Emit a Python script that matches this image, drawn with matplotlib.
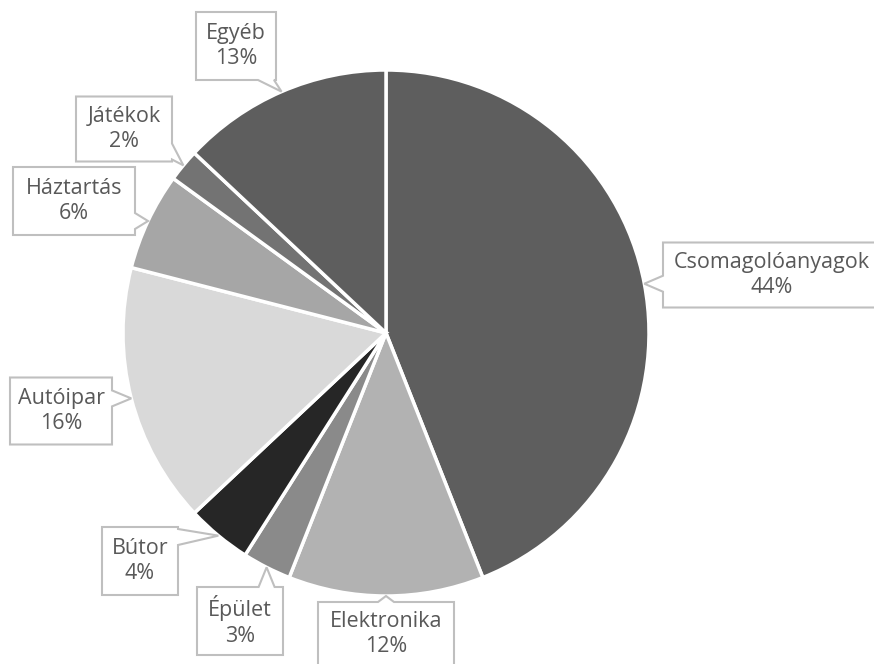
import numpy as np
import matplotlib.pyplot as plt
from matplotlib.patches import Polygon

plt.rcParams['font.family'] = ['Open Sans', 'DejaVu Sans']

# share of each segment, clockwise from 12 o'clock
categories = ['Csomagolóanyagok', 'Elektronika', 'Épület', 'Bútor',
              'Autóipar', 'Háztartás', 'Játékok', 'Egyéb']
shares = [44, 12, 3, 4, 16, 6, 2, 13]
colors = ['#5e5e5e', '#b2b2b2', '#8a8a8a', '#262626',
          '#d9d9d9', '#a6a6a6', '#737373', '#5e5e5e']

# callout boxes: centre (x, y in pixels from top-left) and size
box_layout = {
    'Csomagolóanyagok': (772, 275, 218, 65),
    'Elektronika':      (386, 634, 136, 64),
    'Épület':           (240, 621, 86, 68),
    'Bútor':            (140, 561, 76, 68),
    'Autóipar':         (61, 411, 102, 67),
    'Háztartás':        (74, 201, 122, 68),
    'Játékok':          (124, 129, 96, 65),
    'Egyéb':            (236, 46, 80, 68),
}

W, H = 874, 664
cx, cy, r = 386, 333, 263


def to_data(x, y):
    return x, H - y


def callout(ax, box, tip, text):
    bx, by, bw, bh = box
    x0, x1 = bx - bw / 2, bx + bw / 2
    y0, y1 = by - bh / 2, by + bh / 2
    tx, ty = tip
    half = 8
    # how far the tip sits outside the box on each axis
    out_x = max(x0 - tx, tx - x1, 0)
    out_y = max(y0 - ty, ty - y1, 0)
    # corners clockwise on screen, starting top-left
    tl, tr, br, bl = (x0, y0), (x1, y0), (x1, y1), (x0, y1)
    if out_x >= out_y:
        p = np.clip(ty, y0 + half + 2, y1 - half - 2)
        if tx > x1:
            pts = [tl, tr, (x1, p - half), tip, (x1, p + half), br, bl]
        else:
            pts = [tl, tr, br, bl, (x0, p + half), tip, (x0, p - half)]
    else:
        p = np.clip(tx, x0 + half + 2, x1 - half - 2)
        if ty < y0:
            pts = [tl, (p - half, y0), tip, (p + half, y0), tr, br, bl]
        else:
            pts = [tl, tr, br, (p + half, y1), tip, (p - half, y1), bl]
    poly = Polygon([to_data(*q) for q in pts], closed=True,
                   facecolor='white', edgecolor='#bfbfbf', linewidth=1.5,
                   zorder=5)
    ax.add_patch(poly)
    ax.text(*to_data(bx, by), text, ha='center', va='center',
            fontsize=15.5, color='#595959', linespacing=1.28, zorder=6)


fig = plt.figure(figsize=(W / 100, H / 100), dpi=100)
ax = fig.add_axes([0, 0, 1, 1])

ax.pie(shares, colors=colors, startangle=90, counterclock=False,
       center=to_data(cx, cy), radius=r,
       wedgeprops=dict(edgecolor='white', linewidth=2.5))

total = float(sum(shares))
start = 0.0
for name, val in zip(categories, shares):
    mid = np.deg2rad((start + val / 2) / total * 360)
    start += val
    tip = (cx + r * np.sin(mid), cy - r * np.cos(mid))
    callout(ax, box_layout[name], tip, f'{name}\n{val}%')

ax.set_xlim(0, W)
ax.set_ylim(0, H)
ax.set_aspect('equal')
ax.axis('off')

fig.savefig('out.png', dpi=100)
